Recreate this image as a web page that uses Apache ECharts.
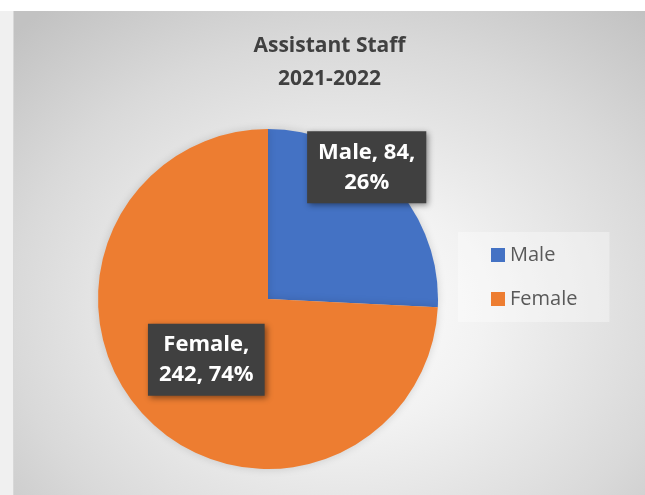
<!DOCTYPE html>
<html>
<head>
<meta charset="utf-8">
<script src="https://cdn.jsdelivr.net/npm/echarts@6/dist/echarts.min.js"></script>
<style>
html,body{margin:0;padding:0;width:645px;height:495px;background:#ffffff;overflow:hidden;}
#strip{position:absolute;left:0;top:11px;width:14px;height:484px;background:#f0f0f0;border-right:1px solid #d8d8d8;box-sizing:border-box;}
#chart{position:absolute;left:14px;top:11px;width:631px;height:484px;
background:radial-gradient(ellipse 75% 80% at 52% 62%, #ffffff 0%, #f2f2f2 30%, #d9d9d9 70%, #c2c2c2 100%);}
</style>
</head>
<body>
<div id="strip"></div>
<div id="chart"></div>
<script>
var titleText = 'Assistant Staff\n2021-2022';
var categories = ['Male', 'Female'];
var values = [84, 242];
var colors = ['#4472C4', '#ED7D31'];
var labelFormats = ['{b}, {c},\n{d}%', '{b},\n{c}, {d}%'];
var labelOffsets = [[35, -71], [2, 0]];

var chart = echarts.init(document.getElementById('chart'), null, {renderer: 'canvas'});
var data = categories.map(function (c, i) {
  return {
    name: c,
    value: values[i],
    itemStyle: {color: colors[i]},
    label: {formatter: labelFormats[i], offset: labelOffsets[i]}
  };
});
chart.setOption({
  backgroundColor: 'transparent',
  animation: false,
  title: {
    text: titleText,
    left: 'center',
    top: 19,
    padding: 0,
    textStyle: {
      fontFamily: 'Open Sans',
      fontWeight: 'bold',
      fontSize: 21,
      lineHeight: 33,
      color: '#404040'
    }
  },
  legend: {
    orient: 'vertical',
    left: 444,
    top: 221,
    padding: [13, 32, 13, 33],
    backgroundColor: 'rgba(255,255,255,0.35)',
    itemWidth: 14,
    itemHeight: 14,
    itemGap: 24,
    itemTextGap: 6,
    icon: 'rect',
    data: categories,
    textStyle: {
      fontFamily: 'Open Sans',
      fontSize: 20,
      lineHeight: 20,
      color: '#595959'
    }
  },
  series: [{
    type: 'pie',
    center: [254, 288],
    radius: 170,
    startAngle: 90,
    clockwise: true,
    percentPrecision: 0,
    data: data,
    itemStyle: {
      shadowBlur: 8,
      shadowColor: 'rgba(0,0,0,0.15)'
    },
    label: {
      show: true,
      position: 'inside',
      fontFamily: 'Open Sans',
      fontWeight: 'bold',
      fontSize: 22,
      lineHeight: 30,
      color: '#ffffff',
      backgroundColor: '#404040',
      padding: [6, 11, 6, 11],
      align: 'center',
      shadowBlur: 6,
      shadowColor: 'rgba(0,0,0,0.45)',
      shadowOffsetX: 2,
      shadowOffsetY: 2
    },
    labelLine: {show: false},
    emphasis: {disabled: true}
  }]
});
</script>
</body>
</html>
